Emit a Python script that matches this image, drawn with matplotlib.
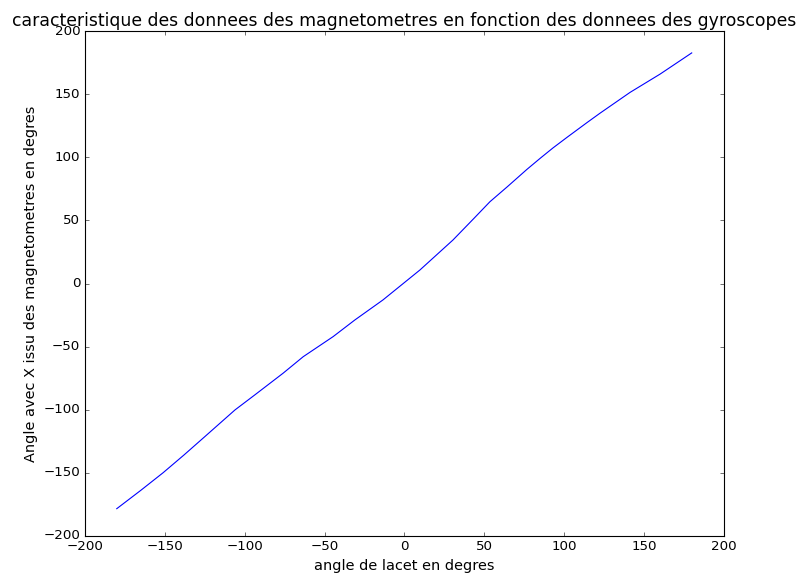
import matplotlib
matplotlib.use("Agg")
import matplotlib.pyplot as plt

# angle de lacet (gyroscopes) vs angle magnetometres
lacet = [-180, -165, -151, -138, -125, -106, -93.6, -75.9, -63.3, -44.6, -31,
         -13.5, 9.7, 30.4, 43.5, 53.5, 64.4, 76.7, 85.2, 93, 101.9, 114.2,
         122.4, 141.2, 160, 179.8]
angle_mag = [-178.5, -164, -150, -136, -121.5, -100.2, -88.3, -71.1, -58,
             -42.1, -28.9, -13.1, 10.7, 34.5, 51.6, 64.8, 76.7, 90.5, 99.5,
             107.5, 116, 127.5, 135, 151.5, 166, 182.8]

plt.style.use("classic")
plt.rcParams["figure.facecolor"] = "white"
plt.rcParams["savefig.facecolor"] = "white"

fig = plt.figure(figsize=(10, 7.225), dpi=80)
ax = fig.add_subplot(111)
fig.subplots_adjust(left=0.106, right=0.905, top=0.946, bottom=0.073)

ax.plot(lacet, angle_mag, "b-")
ax.set_xlim(-200, 200)
ax.set_ylim(-200, 200)
ax.set_xlabel("angle de lacet en degres", fontsize=13)
ax.set_ylabel("Angle avec X issu des magnetometres en degres", fontsize=13)
ax.set_title("caracteristique des donnees des magnetometres en fonction des donnees des gyroscopes",
             fontsize=15.5)

fig.savefig("out.png", dpi=80)
